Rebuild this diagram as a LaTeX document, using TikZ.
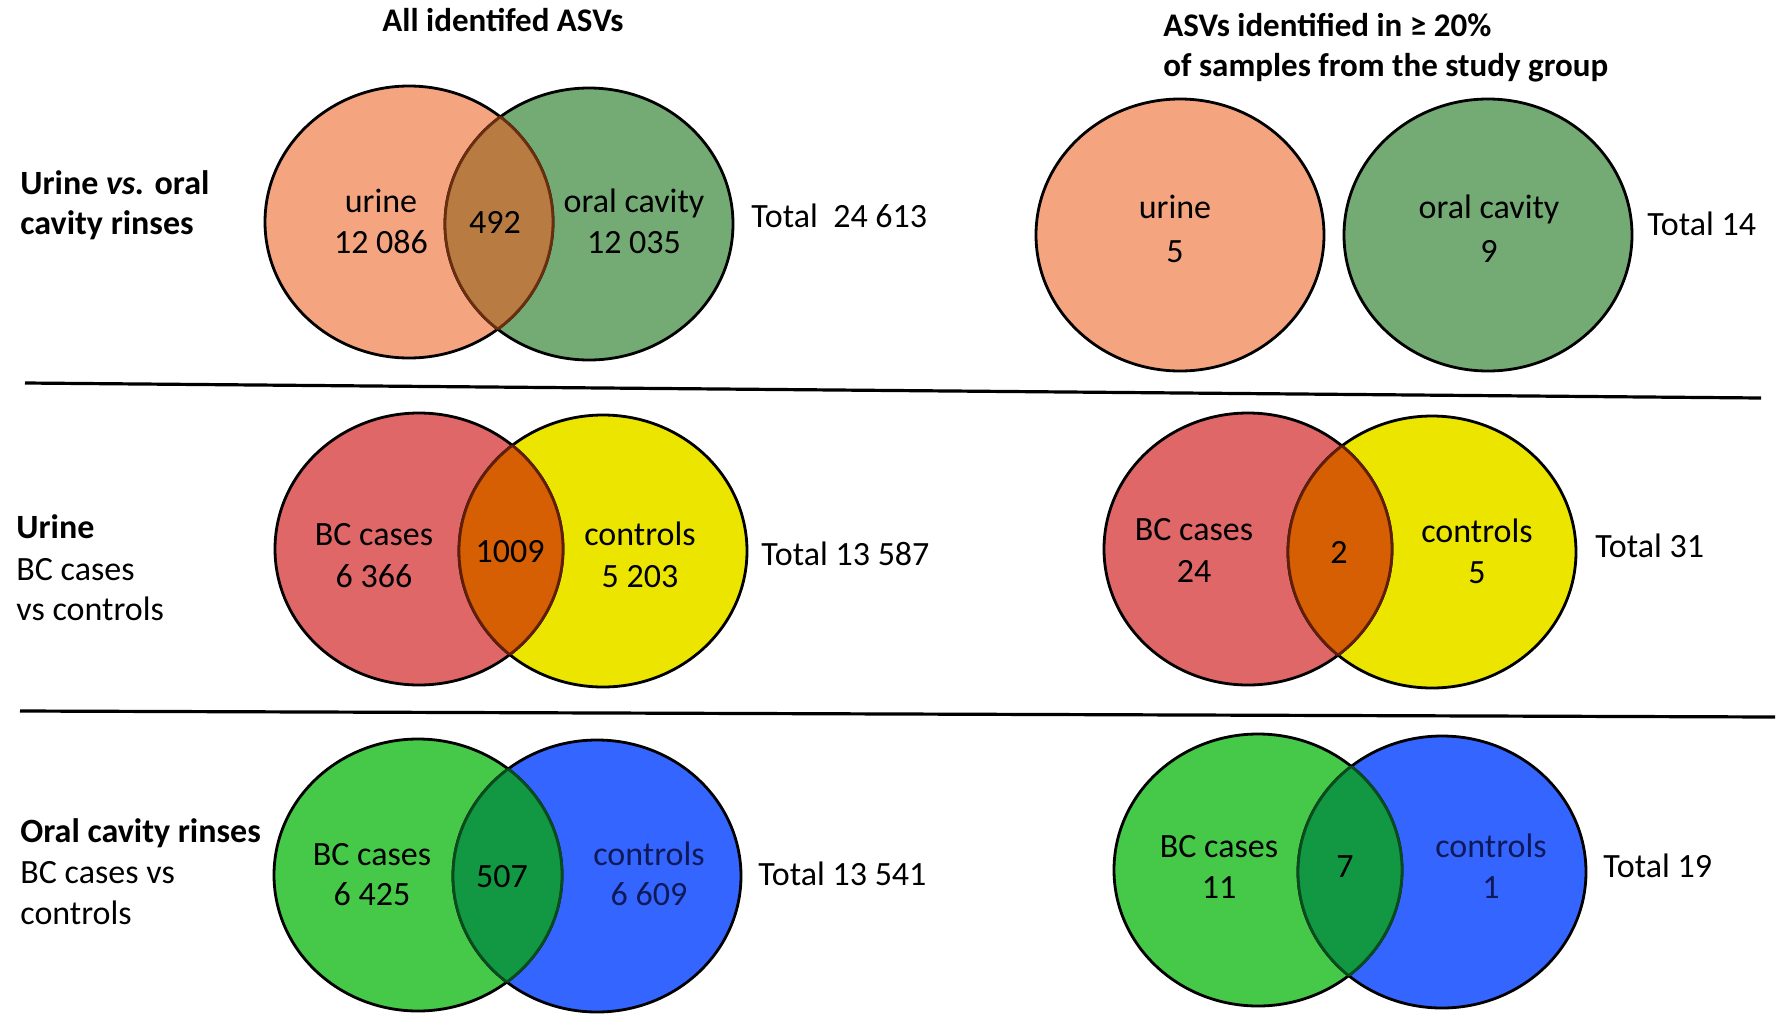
\documentclass[tikz,border=0pt]{standalone}
\usepackage{fontspec}
\setmainfont{Carlito}
\definecolor{urineor}{RGB}{244,165,128}
\definecolor{oralgr}{RGB}{116,170,116}
\definecolor{lensbrown}{RGB}{184,123,66}
\definecolor{lensbrownedge}{RGB}{105,45,15}
\definecolor{bcred}{RGB}{224,103,104}
\definecolor{ctlyellow}{RGB}{235,229,0}
\definecolor{lensorange}{RGB}{213,95,2}
\definecolor{lensorangeedge}{RGB}{95,30,10}
\definecolor{bcgreen}{RGB}{70,200,72}
\definecolor{ctlblue}{RGB}{52,102,255}
\definecolor{lensgreen}{RGB}{18,152,66}
\definecolor{lensgreenedge}{RGB}{10,75,30}
\definecolor{txtnavy}{RGB}{15,25,90}
\begin{document}
\begin{tikzpicture}[x=0.5pt,y=0.5pt,yscale=-1,xscale=1,
  vsz/.style={x radius=144, y radius=136},
  vennline/.style={line width=1.4pt},
  sepline/.style={line width=1.6pt},
  vtxt/.style={anchor=base, inner sep=0pt, font=\fontsize{17}{20}\selectfont},
  stxt/.style={anchor=base west, inner sep=0pt, font=\fontsize{17}{20}\selectfont},
  ttl/.style={inner sep=0pt, font=\fontsize{16.5}{20}\selectfont\bfseries}]
\useasboundingbox (0,0) rectangle (1784,1018);
\fill[white] (0,0) rectangle (1784,1018);

% Titles
\node[ttl, anchor=base] (ttlall) at (503,31) {All identifed ASVs};
\node[ttl, anchor=base west] (ttlfreq) at (1163,36) {ASVs identified in ≥ 20\%};
\node[ttl, anchor=base west] (ttlfreqb) at (1163,76) {of samples from the study group};

%Separator lines
\coordinate (sepAl) at (25,383);
\coordinate (sepAr) at (1761,398);
\coordinate (sepBl) at (20,711);
\coordinate (sepBr) at (1775,717);
\draw[sepline] (sepAl) -- (sepAr);
\draw[sepline] (sepBl) -- (sepBr);

%Shape: Ellipse (urine vs oral, all)
\fill[urineor] (409,222) ellipse [vsz];
\fill[oralgr] (589,224) ellipse [vsz];
\draw[vennline] (409,222) ellipse [vsz];
\draw[vennline] (589,224) ellipse [vsz];
\begin{scope}
\clip (409,222) ellipse [vsz];
\fill[lensbrown] (589,224) ellipse [vsz];
\draw[vennline, lensbrownedge] (589,224) ellipse [vsz];
\end{scope}
\begin{scope}
\clip (589,224) ellipse [vsz];
\draw[vennline, lensbrownedge] (409,222) ellipse [vsz];
\end{scope}

%Shape: Ellipse (urine vs oral, >= 20%)
\draw[vennline, fill=urineor] (1180,235) ellipse [vsz];
\draw[vennline, fill=oralgr] (1488,235) ellipse [vsz];

%Shape: Ellipse (urine, all)
\fill[bcred] (419,549) ellipse [vsz];
\fill[ctlyellow] (603,551) ellipse [vsz];
\draw[vennline] (419,549) ellipse [vsz];
\draw[vennline] (603,551) ellipse [vsz];
\begin{scope}
\clip (419,549) ellipse [vsz];
\fill[lensorange] (603,551) ellipse [vsz];
\draw[vennline, lensorangeedge] (603,551) ellipse [vsz];
\end{scope}
\begin{scope}
\clip (603,551) ellipse [vsz];
\draw[vennline, lensorangeedge] (419,549) ellipse [vsz];
\end{scope}

%Shape: Ellipse (urine, >= 20%)
\fill[bcred] (1248,549) ellipse [vsz];
\fill[ctlyellow] (1432,552) ellipse [vsz];
\draw[vennline] (1248,549) ellipse [vsz];
\draw[vennline] (1432,552) ellipse [vsz];
\begin{scope}
\clip (1248,549) ellipse [vsz];
\fill[lensorange] (1432,552) ellipse [vsz];
\draw[vennline, lensorangeedge] (1432,552) ellipse [vsz];
\end{scope}
\begin{scope}
\clip (1432,552) ellipse [vsz];
\draw[vennline, lensorangeedge] (1248,549) ellipse [vsz];
\end{scope}

%Shape: Ellipse (oral cavity, all)
\fill[bcgreen] (418,875) ellipse [vsz];
\fill[ctlblue] (597,876) ellipse [vsz];
\draw[vennline] (418,875) ellipse [vsz];
\draw[vennline] (597,876) ellipse [vsz];
\begin{scope}
\clip (418,875) ellipse [vsz];
\fill[lensgreen] (597,876) ellipse [vsz];
\draw[vennline, lensgreenedge] (597,876) ellipse [vsz];
\end{scope}
\begin{scope}
\clip (597,876) ellipse [vsz];
\draw[vennline, lensgreenedge] (418,875) ellipse [vsz];
\end{scope}

%Shape: Ellipse (oral cavity, >= 20%)
\fill[bcgreen] (1258,870) ellipse [vsz];
\fill[ctlblue] (1442,872) ellipse [vsz];
\draw[vennline] (1258,870) ellipse [vsz];
\draw[vennline] (1442,872) ellipse [vsz];
\begin{scope}
\clip (1258,870) ellipse [vsz];
\fill[lensgreen] (1442,872) ellipse [vsz];
\draw[vennline, lensgreenedge] (1442,872) ellipse [vsz];
\end{scope}
\begin{scope}
\clip (1442,872) ellipse [vsz];
\draw[vennline, lensgreenedge] (1258,870) ellipse [vsz];
\end{scope}

% Text Node (row labels)
\node[stxt] (rowa) at (20,194) {\textbf{Urine \textit{vs.} oral}};
\node[stxt] (rowab) at (20,234) {\textbf{cavity rinses}};
\node[stxt] (rowb) at (16,538) {\textbf{Urine}};
\node[stxt] (rowbb) at (16,580) {BC cases};
\node[stxt] (rowbc) at (16,620) {vs controls};
\node[stxt] (rowc) at (20,842) {\textbf{Oral cavity rinses}};
\node[stxt] (rowcb) at (20,883) {BC cases vs};
\node[stxt] (rowcc) at (20,924) {controls};

% Text Node (urine vs oral)
\node[vtxt] (urA) at (381,212) {urine};
\node[vtxt] (urAn) at (381,253) {12 086};
\node[vtxt] (lensA) at (495,233) {492};
\node[vtxt] (orA) at (634,212) {oral cavity};
\node[vtxt] (orAn) at (634,253) {12 035};
\node[stxt] (totA) at (751,227) {Total\ \ 24 613};
\node[vtxt] (urB) at (1175,218) {urine};
\node[vtxt] (urBn) at (1175,262) {5};
\node[vtxt] (orB) at (1489,218) {oral cavity};
\node[vtxt] (orBn) at (1489,262) {9};
\node[stxt] (totB) at (1647,235) {Total 14};

% Text Node (urine)
\node[vtxt] (bcC) at (374,545) {BC cases};
\node[vtxt] (bcCn) at (374,587) {6 366};
\node[vtxt] (lensC) at (510,562) {1009};
\node[vtxt] (ctC) at (640,545) {controls};
\node[vtxt] (ctCn) at (640,587) {5 203};
\node[stxt] (totC) at (761,565) {Total 13 587};
\node[vtxt] (bcD) at (1194,540) {BC cases};
\node[vtxt] (bcDn) at (1194,582) {24};
\node[vtxt] (lensD) at (1339,563) {2};
\node[vtxt] (ctD) at (1477,542) {controls};
\node[vtxt] (ctDn) at (1477,583) {5};
\node[stxt] (totD) at (1595,557) {Total 31};

% Text Node (oral cavity rinses)
\node[vtxt] (bcE) at (372,865) {BC cases};
\node[vtxt] (bcEn) at (372,905) {6 425};
\node[vtxt] (lensE) at (502,887) {507};
\node[vtxt, txtnavy] (ctE) at (649,865) {controls};
\node[vtxt, txtnavy] (ctEn) at (649,905) {6 609};
\node[stxt] (totE) at (758,885) {Total 13 541};
\node[vtxt] (bcF) at (1219,857) {BC cases};
\node[vtxt] (bcFn) at (1219,898) {11};
\node[vtxt] (lensF) at (1345,877) {7};
\node[vtxt, txtnavy] (ctF) at (1491,857) {controls};
\node[vtxt, txtnavy] (ctFn) at (1491,898) {1};
\node[stxt] (totF) at (1603,877) {Total 19};
\end{tikzpicture}
\end{document}
